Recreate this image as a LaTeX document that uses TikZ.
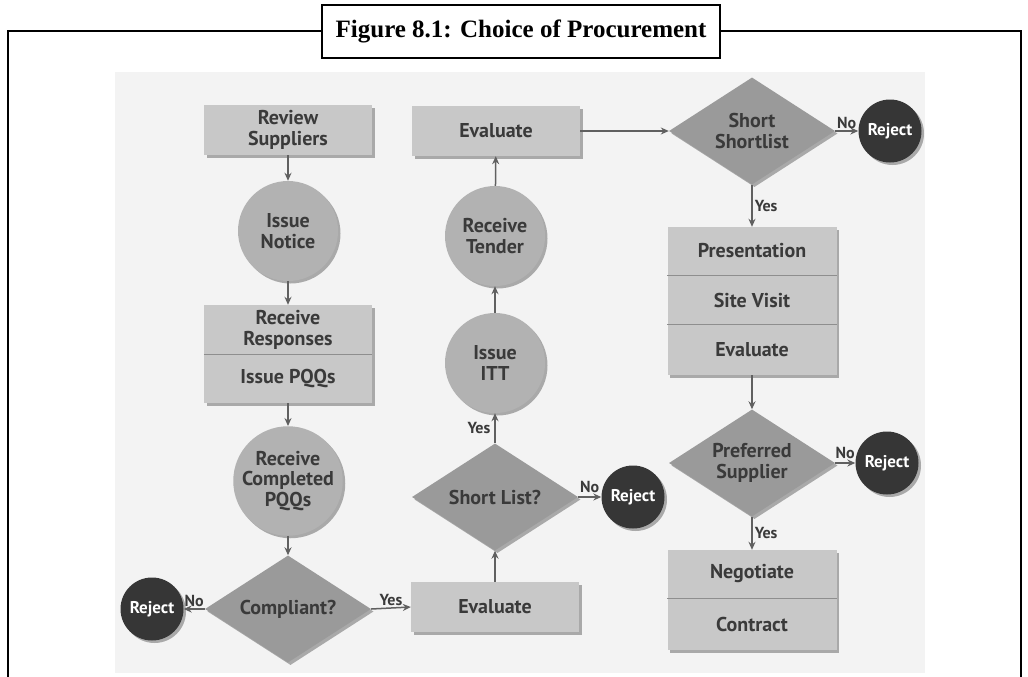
\documentclass[tikz,border=0pt]{standalone}
\usepackage{fontspec}
\setmainfont{Liberation Serif}
\newfontfamily\flowfont{PT Sans}
\usetikzlibrary{shapes.geometric,arrows.meta,shadows}

\definecolor{panel}{HTML}{F3F3F3}
\definecolor{boxgray}{HTML}{C8C8C8}
\definecolor{circgray}{HTML}{B2B2B2}
\definecolor{diagray}{HTML}{9A9A9A}
\definecolor{rejgray}{HTML}{363636}
\definecolor{ink}{HTML}{3A3A3A}
\definecolor{linkgray}{HTML}{606060}
\definecolor{splitgray}{HTML}{8E8E8E}

\tikzset{
  softshadow/.style={drop shadow={shadow xshift=2.5pt,shadow yshift=-2.5pt,fill=black,opacity=0.3}},
  nodetext/.style={font=\flowfont\bfseries\fontsize{20}{20.5}\selectfont, text=ink, align=center},
  procbox/.style={rectangle, fill=boxgray, minimum width=168pt, minimum height=50pt, inner sep=0pt, softshadow, nodetext},
  rowtext/.style={rectangle, minimum width=168pt, minimum height=49pt, inner sep=0pt, nodetext},
  eventcirc/.style={circle, fill=circgray, minimum size=100pt, inner sep=0pt, softshadow, nodetext},
  decision/.style={diamond, fill=diagray, minimum width=166pt, minimum height=107pt, aspect=1.6, inner sep=0pt, softshadow, nodetext},
  rejectcirc/.style={circle, fill=rejgray, minimum size=63pt, inner sep=0pt, softshadow, font=\flowfont\bfseries\fontsize{17}{17}\selectfont, text=white},
  flow/.style={draw=linkgray, line width=1.5pt, -{Stealth[length=8pt,width=7pt]}},
  divider/.style={draw=splitgray, line width=1.4pt},
  answer/.style={font=\flowfont\bfseries\fontsize{16}{16}\selectfont, text=ink, inner sep=2pt},
  framerule/.style={line width=2pt, draw=black}
}

\begin{document}
\begin{tikzpicture}[x=1pt,y=-1pt]
  \useasboundingbox (0,0) rectangle (1028,677);

  % caption box and the surrounding frame
  \node (title) [rectangle, framerule, fill=white, minimum width=398pt, minimum height=53pt,
                 inner sep=0pt, font=\bfseries\fontsize{25}{25}\selectfont] at (521,31.5)
        {Figure 8.1: Choice of Procurement};
  \coordinate (frameTL) at (8,31.5);
  \coordinate (frameBL) at (8,677);
  \coordinate (frameTR) at (1021,31.5);
  \coordinate (frameBR) at (1021,677);
  \draw[framerule] (title.west) -- (frameTL) -- (frameBL);
  \draw[framerule] (title.east) -- (frameTR) -- (frameBR);

  % light panel behind the chart
  \fill[panel] (115,72) rectangle (925,673);

  % ---- left column ----
  \node (rs)  [procbox]   at (288,130) {Review\\Suppliers};
  \node (inot)[eventcirc] at (288,231) {Issue\\Notice};
  \node (rr)  [procbox, minimum height=98pt] at (288,354) {};
  \node (rr1) [rowtext] at (288,330) {Receive\\Responses};
  \node (rr2) [rowtext] at (288,379) {Issue PQQs};
  \draw[divider] (rr1.south west) -- (rr1.south east);
  \node (rc)  [eventcirc] at (288,481) {Receive\\Completed\\PQQs};
  \node (cp)  [decision]  at (288,609) {Compliant?};
  \node (rj1) [rejectcirc] at (152,609) {Reject};

  % ---- middle column ----
  \node (ev1) [procbox]   at (495,607) {Evaluate};
  \node (sl)  [decision]  at (495,497) {Short List?};
  \node (rj2) [rejectcirc] at (633,497) {Reject};
  \node (itt) [eventcirc] at (495,363) {Issue\\ITT};
  \node (rt)  [eventcirc] at (495,236) {Receive\\Tender};
  \node (ev2) [procbox]   at (496,131) {Evaluate};

  % ---- right column ----
  \node (ss)  [decision]  at (752,131) {Short\\Shortlist};
  \node (rj3) [rejectcirc] at (890,131) {Reject};
  \node (pv)  [procbox, minimum width=169pt, minimum height=148pt] at (752,301) {};
  \node (pv1) [rowtext, minimum width=169pt] at (752,251) {Presentation};
  \node (pv2) [rowtext, minimum width=169pt] at (752,300) {Site Visit};
  \node (pv3) [rowtext, minimum width=169pt] at (752,350) {Evaluate};
  \draw[divider] (pv1.south west) -- (pv1.south east);
  \draw[divider] (pv2.south west) -- (pv2.south east);
  \node (ps)  [decision]  at (752,463) {Preferred\\Supplier};
  \node (rj4) [rejectcirc] at (887,463) {Reject};
  \node (nc)  [procbox, minimum width=169pt, minimum height=100pt] at (752,600) {};
  \node (nc1) [rowtext, minimum width=169pt] at (752,574) {Negotiate};
  \node (nc2) [rowtext, minimum width=169pt, minimum height=51pt] at (752,624) {Contract};
  \draw[divider] (nc1.south west) -- (nc1.south east);

  % ---- connectors ----
  \draw[flow] (rs) -- (inot);
  \draw[flow] (inot) -- (rr);
  \draw[flow] (rr) -- (rc);
  \draw[flow] (rc) -- (cp);
  \draw[flow] (cp.west) -- (rj1.east) node[midway, above, answer] {No};
  \draw[flow] (cp.east) -- (ev1.west) node[midway, above, answer] {Yes};
  \draw[flow] (ev1) -- (sl);
  \draw[flow] (sl.east) -- (rj2.west) node[midway, above, answer, yshift=2pt] {No};
  \draw[flow] (sl.north) -- (itt.south) node[midway, left, answer, xshift=-2pt] {Yes};
  \draw[flow] (itt) -- (rt);
  \draw[flow] (rt) -- (ev2);
  \draw[flow] (ev2.east) -- (ss.west);
  \draw[flow] (ss.east) -- (rj3.west) node[midway, above, answer] {No};
  \draw[flow] (ss.south) -- (pv.north) node[midway, right, answer] {Yes};
  \draw[flow] (pv) -- (ps);
  \draw[flow] (ps.east) -- (rj4.west) node[midway, above, answer, yshift=2pt] {No};
  \draw[flow] (ps.south) -- (nc.north) node[midway, right, answer] {Yes};
\end{tikzpicture}
\end{document}
